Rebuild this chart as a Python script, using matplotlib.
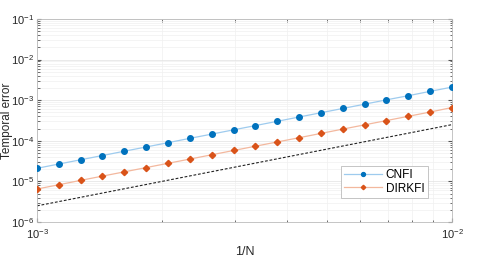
import matplotlib
matplotlib.use("Agg")
import matplotlib.pyplot as plt
from matplotlib.ticker import NullFormatter

# -- datos --
inv_n = [1.000e-3, 1.129e-3, 1.274e-3, 1.438e-3, 1.624e-3, 1.833e-3, 2.069e-3,
         2.336e-3, 2.637e-3, 2.976e-3, 3.360e-3, 3.793e-3, 4.281e-3, 4.833e-3,
         5.456e-3, 6.158e-3, 6.952e-3, 7.848e-3, 8.859e-3, 1.000e-2]
cnfi = [2.10e-5, 2.68e-5, 3.41e-5, 4.34e-5, 5.54e-5, 7.05e-5, 8.99e-5,
        1.15e-4, 1.46e-4, 1.86e-4, 2.37e-4, 3.02e-4, 3.85e-4, 4.91e-4,
        6.25e-4, 7.97e-4, 1.02e-3, 1.29e-3, 1.65e-3, 2.10e-3]
dirkfi = [6.50e-6, 8.28e-6, 1.06e-5, 1.35e-5, 1.72e-5, 2.19e-5, 2.79e-5,
          3.55e-5, 4.53e-5, 5.77e-5, 7.35e-5, 9.37e-5, 1.19e-4, 1.52e-4,
          1.94e-4, 2.47e-4, 3.15e-4, 4.01e-4, 5.11e-4, 6.60e-4]
ref_x = [1e-3, 1e-2]
ref_y = [2.5e-6, 2.5e-4]
labels = ['CNFI', 'DIRKFI']

plt.rcParams['font.family'] = ['Liberation Sans', 'DejaVu Sans']
plt.rcParams['mathtext.fontset'] = 'custom'
plt.rcParams['mathtext.rm'] = 'Liberation Sans'
plt.rcParams['mathtext.it'] = 'Liberation Sans:italic'

c_blue = '#0072BD'
c_orange = '#D95319'

fig = plt.figure(figsize=(5.03, 2.58), dpi=100)
ax = fig.add_axes([0.0736, 0.1395, 0.825, 0.787])

ax.loglog(inv_n, cnfi, '-', color='#9ecbee', lw=0.9, marker='o', ms=4,
          mfc=c_blue, mec=c_blue, label=labels[0], zorder=3)
ax.loglog(inv_n, dirkfi, '-', color='#f3b89e', lw=0.9, marker='D', ms=3.2,
          mfc=c_orange, mec=c_orange, label=labels[1], zorder=3)
ax.loglog(ref_x, ref_y, '--', color='#222222', lw=0.8, dashes=(2.5, 1.6), zorder=2)

ax.set_xlim(1e-3, 1e-2)
ax.set_ylim(1e-6, 1e-1)
ax.xaxis.set_minor_formatter(NullFormatter())
ax.yaxis.set_minor_formatter(NullFormatter())
ax.grid(True, which='major', color='#e2e2e2', lw=0.5)
ax.grid(True, which='minor', color='#f0f0f0', lw=0.5)
ax.tick_params(which='both', direction='in', top=True, right=True,
               colors='#555555', labelcolor='#262626', labelsize=8)
ax.tick_params(which='major', length=3)
ax.tick_params(which='minor', length=1.8)
ax.tick_params(axis='x', pad=4)
ax.tick_params(axis='y', pad=2)
for s in ax.spines.values():
    s.set_color('#bbbbbb')
    s.set_linewidth(0.6)

ax.set_xlabel('1/N', fontsize=9, color='#262626')
ax.xaxis.set_label_coords(0.5, -0.12)
ax.set_ylabel('Temporal error', fontsize=8.5, color='#262626')
ax.yaxis.set_label_coords(-0.058, 0.5)

leg = ax.legend(loc='lower right', bbox_to_anchor=(0.942, 0.118), fontsize=8.5,
                handlelength=3.2, markerscale=0.7, fancybox=False,
                framealpha=1, borderpad=0.3, labelspacing=0.12, handletextpad=0.3,
                borderaxespad=0)
leg.get_frame().set_edgecolor('#bbbbbb')
leg.get_frame().set_linewidth(0.6)

fig.savefig('out.png', dpi=100)
